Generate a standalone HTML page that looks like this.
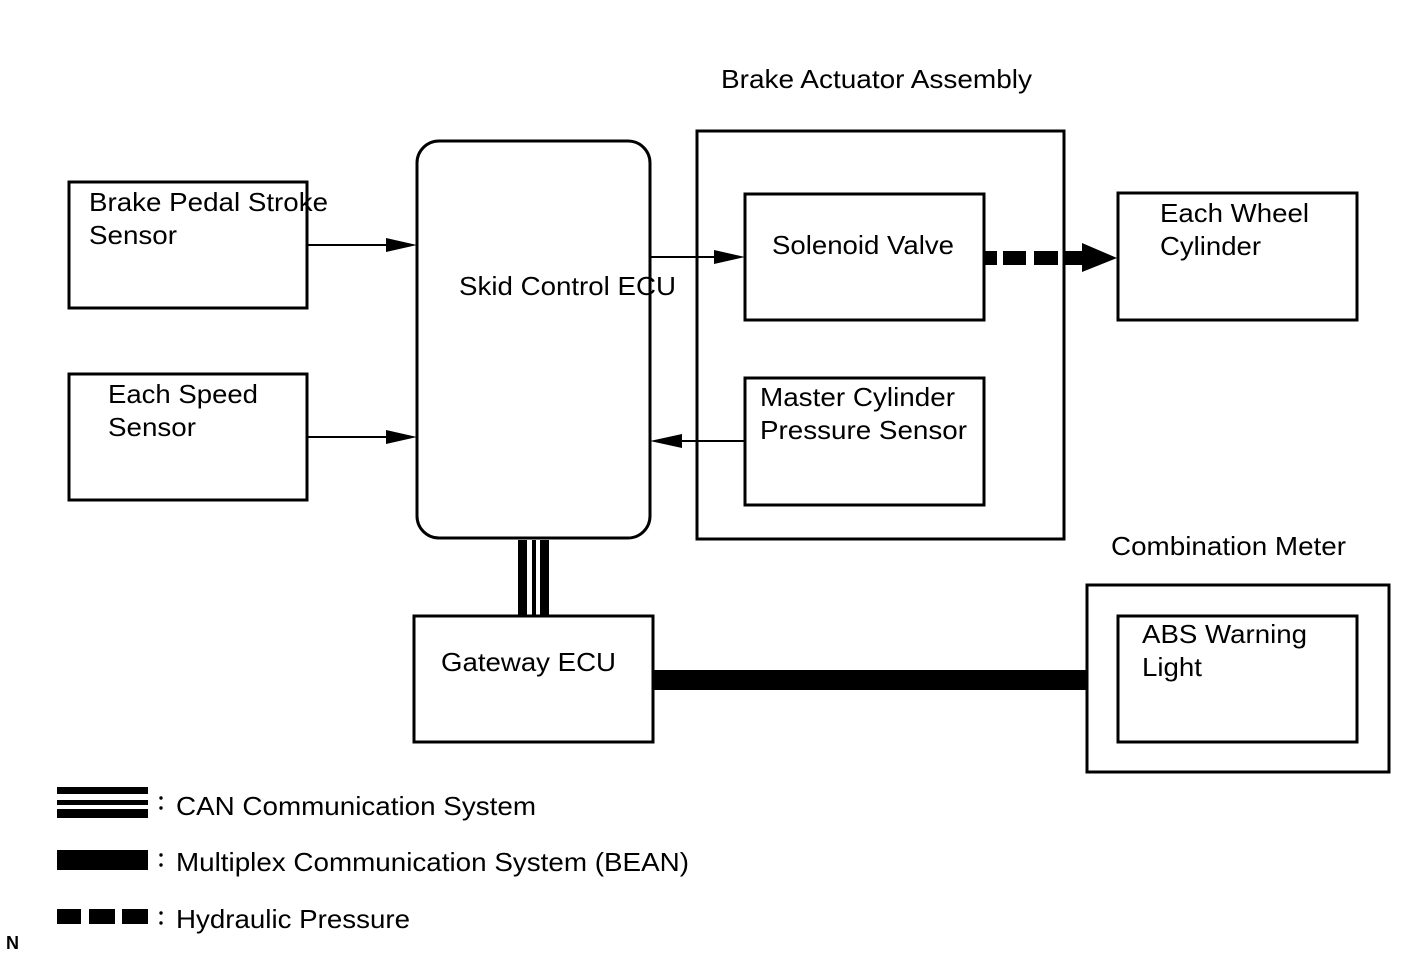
<!DOCTYPE html>
<html><head><meta charset="utf-8"><style>
html,body{margin:0;padding:0;background:#fff}
svg{display:block}
text{font-family:"Liberation Sans",sans-serif;font-size:26px;fill:#000}
</style></head><body>
<svg width="1421" height="957" viewBox="0 0 1421 957" xmlns="http://www.w3.org/2000/svg">
<g fill="none" stroke="#000" stroke-width="3">
<rect x="69" y="182" width="238" height="126"/>
<rect x="69" y="374" width="238" height="126"/>
<rect x="417" y="141" width="233" height="397" rx="22"/>
<rect x="697" y="131" width="367" height="408"/>
<rect x="745" y="194" width="239" height="126"/>
<rect x="745" y="378" width="239" height="127"/>
<rect x="1118" y="193" width="239" height="127"/>
<rect x="414" y="616" width="239" height="126"/>
<rect x="1087" y="585" width="302" height="187"/>
<rect x="1118" y="616" width="239" height="126"/>
<line x1="307" y1="245" x2="390" y2="245" stroke-width="2"/>
<line x1="307" y1="437" x2="390" y2="437" stroke-width="2"/>
<line x1="650" y1="257" x2="718" y2="257" stroke-width="2"/>
<line x1="745" y1="441" x2="680" y2="441" stroke-width="2"/>
</g>
<polygon points="417,245 386,238 386,252"/>
<polygon points="417,437 386,430 386,444"/>
<polygon points="745,257 714,250 714,264"/>
<polygon points="650,441 682,434 682,448"/>
<rect x="518" y="540" width="9" height="76"/>
<rect x="532" y="540" width="4" height="76"/>
<rect x="540" y="540" width="9" height="76"/>
<rect x="653" y="670" width="434" height="20"/>
<rect x="985" y="251" width="12" height="14"/>
<rect x="1003" y="251" width="23" height="14"/>
<rect x="1034" y="251" width="24" height="14"/>
<rect x="1064" y="251" width="20" height="14"/>
<polygon points="1117,258 1082,243 1082,272"/>
<rect x="57" y="787" width="91" height="7"/>
<rect x="57" y="800" width="91" height="5"/>
<rect x="57" y="809" width="91" height="9"/>
<rect x="57" y="850" width="91" height="20"/>
<rect x="57" y="909" width="24" height="15"/>
<rect x="89" y="909" width="26" height="15"/>
<rect x="122" y="909" width="26" height="15"/>
<g fill="#000"><circle cx="161" cy="798" r="1.7"/><circle cx="161" cy="808" r="1.7"/>
<circle cx="161" cy="855" r="1.7"/><circle cx="161" cy="865" r="1.7"/>
<circle cx="161" cy="913" r="1.7"/><circle cx="161" cy="923" r="1.7"/></g>
<g lengthAdjust="spacingAndGlyphs">
<text x="721" y="88" textLength="311" lengthAdjust="spacingAndGlyphs">Brake Actuator Assembly</text>
<text x="89" y="211" textLength="239" lengthAdjust="spacingAndGlyphs">Brake Pedal Stroke</text>
<text x="89" y="244" textLength="88" lengthAdjust="spacingAndGlyphs">Sensor</text>
<text x="108" y="403" textLength="150" lengthAdjust="spacingAndGlyphs">Each Speed</text>
<text x="108" y="436" textLength="88" lengthAdjust="spacingAndGlyphs">Sensor</text>
<text x="459" y="295" textLength="217" lengthAdjust="spacingAndGlyphs">Skid Control ECU</text>
<text x="772" y="254" textLength="182" lengthAdjust="spacingAndGlyphs">Solenoid Valve</text>
<text x="760" y="406" textLength="195" lengthAdjust="spacingAndGlyphs">Master Cylinder</text>
<text x="760" y="439" textLength="207" lengthAdjust="spacingAndGlyphs">Pressure Sensor</text>
<text x="1160" y="222" textLength="149" lengthAdjust="spacingAndGlyphs">Each Wheel</text>
<text x="1160" y="255" textLength="101" lengthAdjust="spacingAndGlyphs">Cylinder</text>
<text x="1111" y="555" textLength="235" lengthAdjust="spacingAndGlyphs">Combination Meter</text>
<text x="1142" y="643" textLength="165" lengthAdjust="spacingAndGlyphs">ABS Warning</text>
<text x="1142" y="676" textLength="60" lengthAdjust="spacingAndGlyphs">Light</text>
<text x="441" y="671" textLength="175" lengthAdjust="spacingAndGlyphs">Gateway ECU</text>
<text x="176" y="815" textLength="360" lengthAdjust="spacingAndGlyphs">CAN Communication System</text>
<text x="176" y="871" textLength="513" lengthAdjust="spacingAndGlyphs">Multiplex Communication System (BEAN)</text>
<text x="176" y="928" textLength="234" lengthAdjust="spacingAndGlyphs">Hydraulic Pressure</text>
</g>
<text x="6" y="949" style="font-size:18px;font-weight:bold">N</text>
</svg>
</body></html>
